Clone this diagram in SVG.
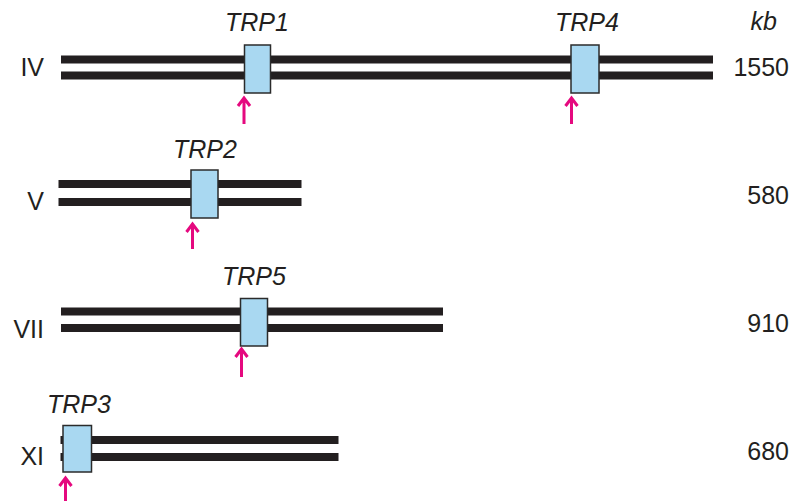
<svg xmlns="http://www.w3.org/2000/svg" width="803" height="501" viewBox="0 0 803 501">
<defs>
<style>
.chr{fill:#231f20}
.gene{fill:#a9d8f1;stroke:#2b2b2b;stroke-width:1.5}
.lbl{font-family:"Liberation Sans",Arial,sans-serif;font-size:25px;fill:#231f20}
.it{font-style:italic;text-anchor:middle}
.end{text-anchor:end}
.arr{stroke:#e5097f;stroke-width:3;fill:none;stroke-linecap:butt;stroke-linejoin:miter}
</style>
</defs>
<rect width="803" height="501" fill="#ffffff"/>
<text class="lbl end" x="777" y="30" style="font-style:italic">kb</text>
<g id="chrIV">
<rect class="chr" x="61" y="55.5" width="652" height="8"/>
<rect class="chr" x="61" y="71.5" width="652" height="8"/>
<text class="lbl end" x="44" y="76">IV</text>
<text class="lbl end" x="789" y="76">1550</text>
</g>
<g id="chrV">
<rect class="chr" x="58.5" y="180" width="243" height="8"/>
<rect class="chr" x="58.5" y="198" width="243" height="8"/>
<text class="lbl end" x="44" y="210">V</text>
<text class="lbl end" x="789" y="204">580</text>
</g>
<g id="chrVII">
<rect class="chr" x="61" y="307.5" width="382" height="8"/>
<rect class="chr" x="61" y="324" width="382" height="8"/>
<text class="lbl end" x="44" y="338">VII</text>
<text class="lbl end" x="789" y="332">910</text>
</g>
<g id="chrXI">
<rect class="chr" x="60.5" y="436" width="278" height="8"/>
<rect class="chr" x="60.5" y="453" width="278" height="8"/>
<text class="lbl end" x="44" y="465">XI</text>
<text class="lbl end" x="789" y="460">680</text>
</g>
<g id="TRP1">
<rect class="gene" x="244.5" y="45" width="26" height="48"/>
<text class="lbl it" x="257" y="31">TRP1</text>
</g>
<g id="TRP4">
<rect class="gene" x="571" y="45" width="28" height="48"/>
<text class="lbl it" x="587" y="31">TRP4</text>
</g>
<g id="TRP2">
<rect class="gene" x="191" y="170" width="27" height="48"/>
<text class="lbl it" x="205" y="158">TRP2</text>
</g>
<g id="TRP5">
<rect class="gene" x="240.5" y="298.5" width="27" height="47.5"/>
<text class="lbl it" x="254" y="285">TRP5</text>
</g>
<g id="TRP3">
<rect class="gene" x="63" y="425.5" width="28.5" height="46.5"/>
<text class="lbl it" x="79" y="413">TRP3</text>
</g>
<g id="connectors">
<path class="arr" d="M244 124V98M238 106l6-8l6 8"/>
<path class="arr" d="M571.5 124V98M565.5 106l6-8l6 8"/>
<path class="arr" d="M192.5 249V224M186.5 232l6-8l6 8"/>
<path class="arr" d="M241.5 377V349M235.5 357l6-8l6 8"/>
<path class="arr" d="M65.5 501V478M59.5 486l6-8l6 8"/>
</g>
</svg>
